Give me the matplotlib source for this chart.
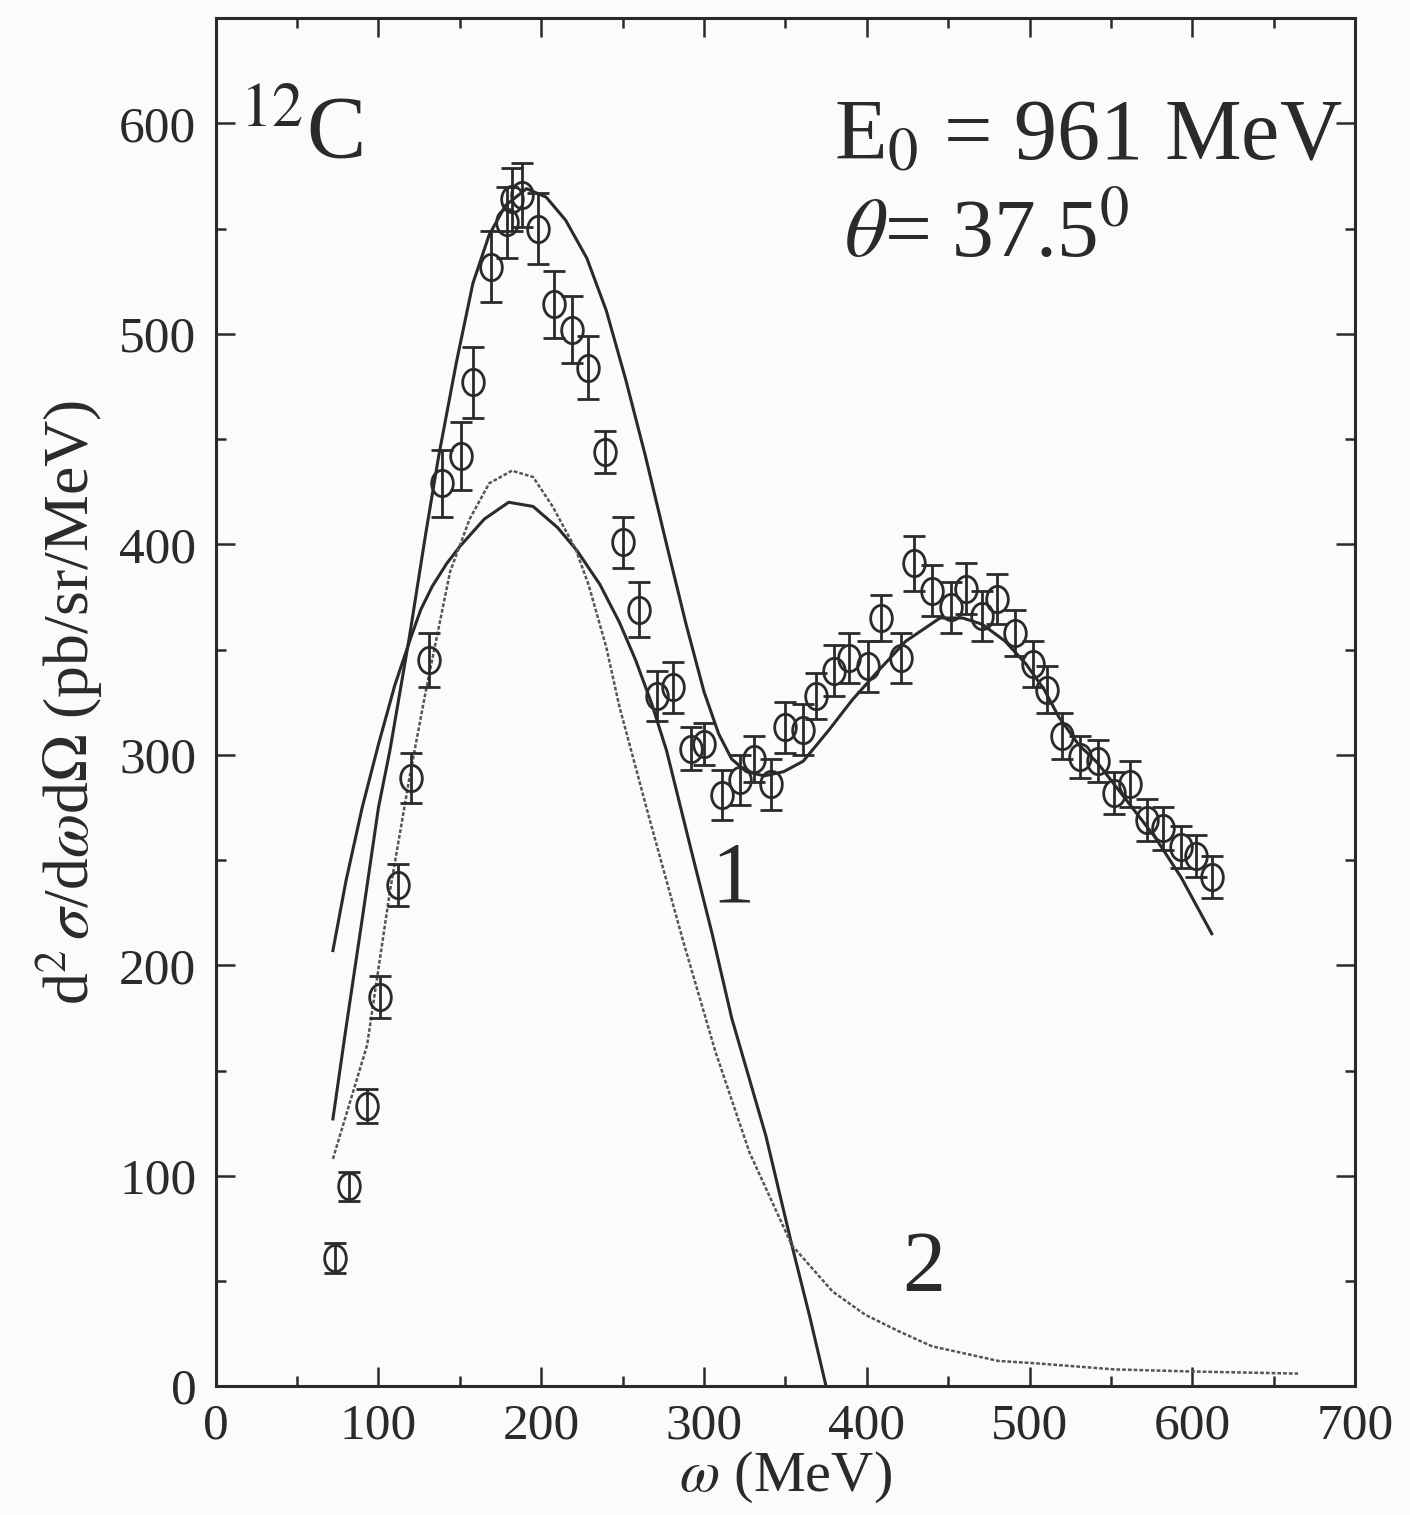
import matplotlib
matplotlib.use("Agg")
import matplotlib.pyplot as plt
from matplotlib.path import Path
from matplotlib.transforms import Affine2D
import numpy as np

plt.rcParams['font.family'] = ['Liberation Serif', 'DejaVu Serif']
plt.rcParams['mathtext.fontset'] = 'stix'

# measured cross section (12C, E0 = 961 MeV, theta = 37.5 deg)
omega_exp = [73, 82, 93, 101, 112, 120, 131, 139, 151, 158, 169, 179, 182, 188,
             198, 208, 219, 229, 239, 250, 260, 271, 281, 292, 300, 311, 322, 331,
             341, 350, 361, 369, 380, 389, 401, 409, 421, 429, 440, 452, 461, 471,
             480, 491, 502, 511, 520, 531, 542, 552, 562, 572, 582, 593, 602, 612]
sigma_exp = [61, 95, 133, 185, 238, 289, 345, 429, 442, 477, 532, 553, 564, 566,
             550, 514, 502, 484, 444, 401, 369, 328, 332, 303, 305, 281, 288, 298,
             286, 313, 312, 328, 340, 346, 342, 365, 346, 391, 378, 370, 379, 366,
             374, 358, 343, 331, 309, 299, 297, 282, 286, 269, 265, 256, 252, 242]
sigma_err = [7, 7, 8, 10, 10, 12, 13, 16, 16, 17, 17, 17, 15, 15,
             17, 16, 16, 15, 10, 12, 13, 12, 12, 10, 10, 12, 12, 11,
             12, 12, 12, 11, 12, 12, 12, 11, 12, 13, 12, 12, 12, 12,
             12, 11, 11, 11, 11, 10, 10, 10, 11, 10, 10, 10, 10, 10]

# total calculation (upper solid line)
omega_tot = [72, 80, 90, 100, 107, 119, 129, 137, 148, 158, 168, 178, 191, 203,
             215, 228, 240, 252, 264, 277, 289, 300, 309, 317, 326, 337, 349, 361,
             377, 391, 406, 424, 445, 459, 471, 485, 498, 509, 518, 530, 542, 561,
             577, 593, 612]
sigma_tot = [127, 170, 222, 275, 302, 356, 405, 442, 487, 524, 547, 561, 569, 565,
             554, 536, 511, 478, 442, 400, 362, 330, 310, 298, 292, 290, 292, 297,
             312, 326, 339, 354, 365, 365, 362, 354, 343, 331, 318, 305, 296, 277,
             261, 242, 215]

# curve 1 (solid)
omega_1 = [72, 80, 90, 100, 110, 120, 126, 133, 142, 150, 165, 180, 195, 210,
           222, 236, 248, 258, 268, 277, 285, 293, 305, 317, 338, 354, 365, 375]
sigma_1 = [207, 240, 275, 305, 333, 356, 369, 380, 391, 399, 412, 420, 418, 408,
           397, 381, 363, 345, 324, 302, 277, 252, 215, 175, 119, 67, 33, 0]

# curve 2 (dotted)
omega_2 = [72, 93, 107, 119, 129, 144, 156, 168, 182, 195, 207, 221, 229, 240,
           248, 266, 287, 307, 328, 354, 379, 399, 420, 440, 481, 502, 552, 600, 665]
sigma_2 = [108, 162, 235, 289, 330, 387, 412, 429, 435, 432, 418, 398, 381, 351,
           323, 271, 212, 159, 111, 67, 45, 34, 26, 19, 12, 11, 8, 7, 6]

xticks = [0, 100, 200, 300, 400, 500, 600, 700]
yticks = [0, 100, 200, 300, 400, 500, 600]

ink = '#2a2a2a'
paper = '#fbfbf9'
# slightly tall open circle, as in the printed figure
oval = Path.unit_circle().transformed(Affine2D().scale(0.82, 1.0))

fig = plt.figure(figsize=(14.1, 15.15), dpi=100, facecolor=paper)
ax = fig.add_axes([0.153, 0.085, 0.808, 0.903])
ax.set_facecolor(paper)

ax.plot(omega_tot, sigma_tot, '-', color=ink, lw=2.2)
ax.plot(omega_1, sigma_1, '-', color=ink, lw=2.2)
ax.plot(omega_2, sigma_2, linestyle=(0, (1.5, 0.8)), color='#555555', lw=1.8)
ax.errorbar(omega_exp, sigma_exp, yerr=sigma_err, fmt='none', ecolor=ink,
            elinewidth=2, capsize=8, capthick=2)
ax.plot(omega_exp, sigma_exp, linestyle='none', marker=oval, ms=19,
        mfc='none', mec=ink, mew=2)

ax.set_xlim(0, 700)
ax.set_ylim(0, 650)
ax.set_xticks(xticks)
ax.set_yticks(yticks)
ax.set_xticks(np.arange(50, 700, 100), minor=True)
ax.set_yticks(np.arange(50, 650, 100), minor=True)
ax.tick_params(which='both', direction='in', top=True, right=True,
               colors=ink, width=1.8, labelsize=37)
ax.tick_params(axis='x', pad=12)
ax.tick_params(axis='y', pad=14)
ax.tick_params(which='major', length=14)
ax.tick_params(which='minor', length=7)
for s in ax.spines.values():
    s.set_linewidth(2.2)
    s.set_color(ink)

ax.set_xlabel(r'$\omega$ (MeV)', fontsize=42, color=ink, labelpad=0)
ax.set_ylabel(r'd$^2\,\sigma$/d$\omega$d$\Omega$ (pb/sr/MeV)', fontsize=46,
              color=ink, labelpad=10)

ax.text(14, 594, r'$^{12}$C', fontsize=64, color=ink, va='center')
ax.text(380, 593, r'E$_0$ = 961 MeV', fontsize=62, color=ink, va='center')
ax.text(386, 546, r'$\theta$= 37.5$^0$', fontsize=60, color=ink, va='center')
ax.text(318, 240, '1', fontsize=62, color=ink, ha='center', va='center')
ax.text(435, 55, '2', fontsize=62, color=ink, ha='center', va='center')

fig.savefig('out.png', dpi=100, facecolor=fig.get_facecolor())
